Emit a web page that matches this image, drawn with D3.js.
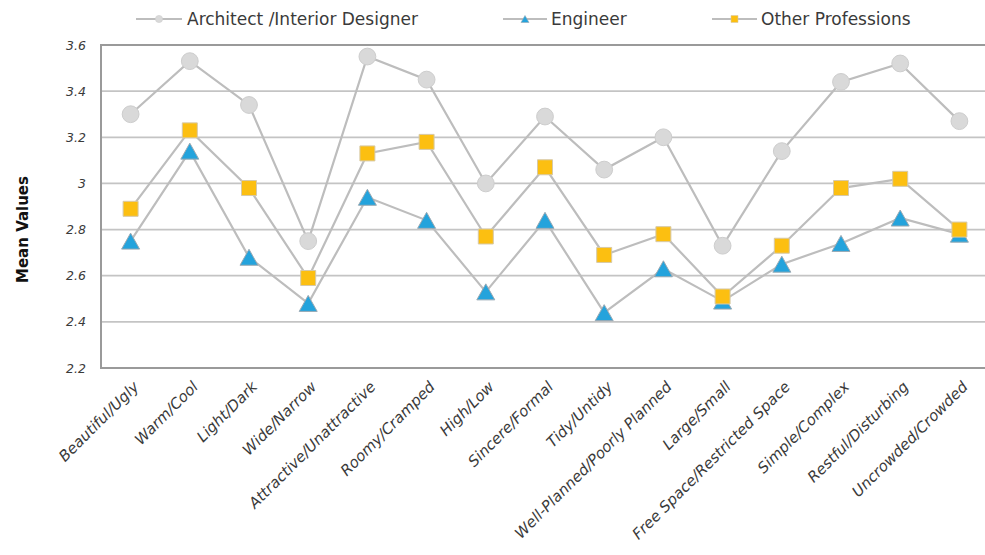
<!DOCTYPE html>
<html>
<head>
<meta charset="utf-8">
<script src="https://cdn.jsdelivr.net/npm/d3@7"></script>
<style>
  body { margin: 0; background: #fff; }
  svg { display: block; }
</style>
</head>
<body>
<svg id="chart" width="985" height="555"></svg>
<script>
// Semantic differential pairs rated by each respondent group
const categories = [
  "Beautiful/Ugly", "Warm/Cool", "Light/Dark", "Wide/Narrow",
  "Attractive/Unattractive", "Roomy/Cramped", "High/Low", "Sincere/Formal",
  "Tidy/Untidy", "Well-Planned/Poorly Planned", "Large/Small",
  "Free Space/Restricted Space", "Simple/Complex", "Restful/Disturbing",
  "Uncrowded/Crowded"
];

// Mean values per group
const architect = [3.30, 3.53, 3.34, 2.75, 3.55, 3.45, 3.00, 3.29, 3.06, 3.20, 2.73, 3.14, 3.44, 3.52, 3.27];
const engineer  = [2.75, 3.14, 2.68, 2.48, 2.94, 2.84, 2.53, 2.84, 2.44, 2.63, 2.49, 2.65, 2.74, 2.85, 2.78];
const other     = [2.89, 3.23, 2.98, 2.59, 3.13, 3.18, 2.77, 3.07, 2.69, 2.78, 2.51, 2.73, 2.98, 3.02, 2.80];

const seriesNames = ["Architect /Interior Designer", "Engineer", "Other Professions"];

const yTicks = [2.2, 2.4, 2.6, 2.8, 3.0, 3.2, 3.4, 3.6];
const yTickLabels = ["2.2", "2.4", "2.6", "2.8", "3", "3.2", "3.4", "3.6"];
const yTitle = "Mean Values";

// Layout
const plot = { left: 101, right: 989, top: 45, bottom: 368 };
const textFont = "'DejaVu Sans', 'Noto Sans', sans-serif";

const svg = d3.select("#chart");

const x = d3.scalePoint()
  .domain(categories)
  .range([plot.left, plot.right])
  .padding(0.5);

const y = d3.scaleLinear()
  .domain([yTicks[0], yTicks[yTicks.length - 1]])
  .range([plot.bottom, plot.top]);

// Horizontal gridlines
svg.append("g")
  .selectAll("line")
  .data(yTicks.slice(1, -1))
  .join("line")
  .attr("x1", plot.left)
  .attr("x2", plot.right)
  .attr("y1", d => y(d))
  .attr("y2", d => y(d))
  .attr("stroke", "#c4c4c4")
  .attr("stroke-width", 1.8);

// Plot frame
svg.append("rect")
  .attr("x", plot.left)
  .attr("y", plot.top)
  .attr("width", plot.right - plot.left)
  .attr("height", plot.bottom - plot.top)
  .attr("fill", "none")
  .attr("stroke", "#9a9a9a")
  .attr("stroke-width", 2);

// Y axis tick labels
const yAxis = d3.axisLeft(y)
  .tickValues(yTicks)
  .tickFormat((d, i) => yTickLabels[i])
  .tickSize(0)
  .tickPadding(15);

const yAxisG = svg.append("g")
  .attr("transform", `translate(${plot.left},0)`)
  .call(yAxis);
yAxisG.select(".domain").remove();
yAxisG.selectAll("text")
  .attr("font-family", textFont)
  .attr("font-size", 12.5)
  .attr("font-style", "italic")
  .attr("fill", "#3a3a3a");

// Y axis title
svg.append("text")
  .attr("transform", `translate(28,${(plot.top + plot.bottom) / 2 + 23}) rotate(-90)`)
  .attr("text-anchor", "middle")
  .attr("font-family", textFont)
  .attr("font-weight", "bold")
  .attr("font-size", 15)
  .attr("fill", "#111")
  .text(yTitle);

// X axis category labels, rotated
const xAxis = d3.axisBottom(x).tickSize(0).tickPadding(0);
const xAxisG = svg.append("g")
  .attr("transform", `translate(0,${plot.bottom})`)
  .call(xAxis);
xAxisG.select(".domain").remove();
xAxisG.selectAll("text")
  .attr("font-family", textFont)
  .attr("font-size", 15)
  .attr("font-style", "italic")
  .attr("fill", "#3a3a3a")
  .attr("text-anchor", "end")
  .attr("dy", "0.35em")
  .attr("transform", "translate(5,16) rotate(-45)");

// Marker shapes
const tri = (w, h) => `M0,${-h / 2}L${w / 2},${h / 2}L${-w / 2},${h / 2}Z`;
const sq = s => `M${-s / 2},${-s / 2}h${s}v${s}h${-s}Z`;

const series = [
  { name: seriesNames[0], values: architect, shape: "circle", fill: "#d9d9d9", stroke: "#cdcdcd" },
  { name: seriesNames[1], values: engineer,  shape: "triangle", fill: "#24a3dc", stroke: "#9aa9b3" },
  { name: seriesNames[2], values: other,     shape: "square", fill: "#fcbf11", stroke: "#d6c9a8" }
];

const line = d3.line()
  .x((d, i) => x(categories[i]))
  .y(d => y(d));

// Connecting lines
svg.append("g")
  .selectAll("path")
  .data(series)
  .join("path")
  .attr("d", s => line(s.values))
  .attr("fill", "none")
  .attr("stroke", "#bdbdbd")
  .attr("stroke-width", 2.2);

function drawMarker(g, shape, fill, stroke, big) {
  if (shape === "circle") {
    g.append("circle").attr("r", big ? 8.4 : 3.6);
  } else if (shape === "triangle") {
    g.append("path").attr("d", big ? tri(18, 16) : tri(8, 7));
  } else {
    g.append("path").attr("d", big ? sq(15) : sq(7));
  }
  g.selectAll("circle,path")
    .attr("fill", fill)
    .attr("stroke", stroke)
    .attr("stroke-width", big ? 1 : 0.6);
}

// Data markers
series.forEach(s => {
  const g = svg.append("g");
  s.values.forEach((v, i) => {
    const m = g.append("g").attr("transform", `translate(${x(categories[i])},${y(v)})`);
    drawMarker(m, s.shape, s.fill, s.stroke, true);
  });
});

// Legend
const legendItems = [
  { lineX: 136, lineW: 46, textX: 187 },
  { lineX: 503, lineW: 44, textX: 551 },
  { lineX: 712, lineW: 45, textX: 761 }
];
const legendY = 19;
series.forEach((s, i) => {
  const li = legendItems[i];
  const g = svg.append("g");
  g.append("line")
    .attr("x1", li.lineX).attr("x2", li.lineX + li.lineW)
    .attr("y1", legendY).attr("y2", legendY)
    .attr("stroke", "#bdbdbd").attr("stroke-width", 2.2);
  const m = g.append("g").attr("transform", `translate(${li.lineX + li.lineW / 2},${legendY})`);
  drawMarker(m, s.shape, s.fill, s.stroke, false);
  g.append("text")
    .attr("x", li.textX).attr("y", legendY)
    .attr("dy", "0.35em")
    .attr("font-family", textFont)
    .attr("font-size", 17)
    .attr("fill", "#3a3a3a")
    .text(s.name);
});
</script>
</body>
</html>
